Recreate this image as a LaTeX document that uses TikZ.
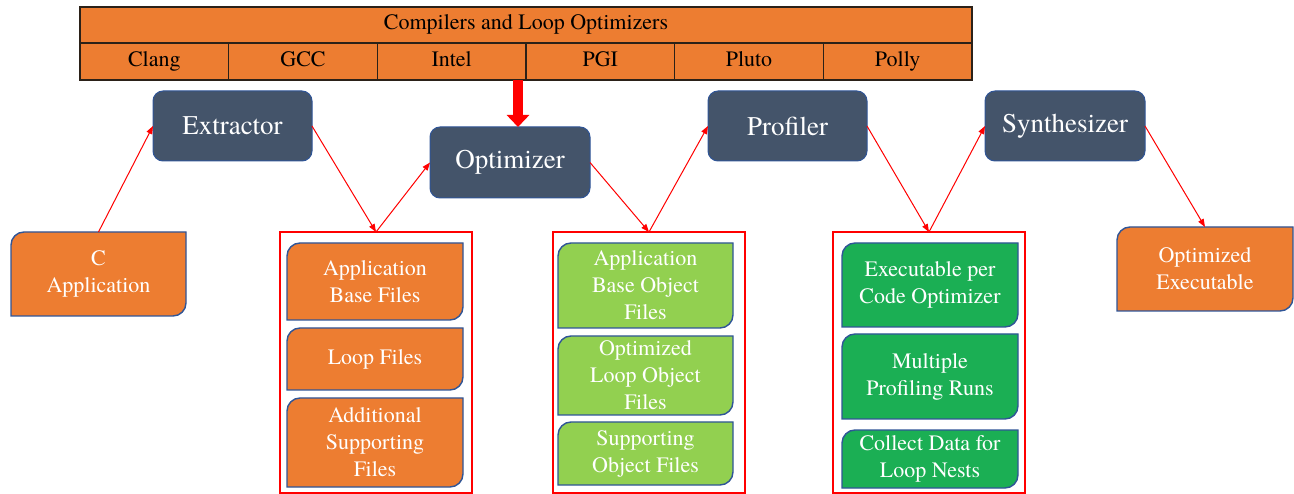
\documentclass[tikz,border=0pt]{standalone}
\usepackage{fontspec}
\IfFontExistsTF{texgyretermes-regular.otf}
  {\newfontfamily\tnr{texgyretermes-regular.otf}}
  {\newcommand\tnr{\rmfamily}}
\usetikzlibrary{arrows.meta,calc}
\definecolor{orng}{HTML}{ED7D31}
\definecolor{lgreen}{HTML}{92D050}
\definecolor{dgreen}{HTML}{1BAF54}
\definecolor{slate}{HTML}{44546A}
\definecolor{bordblue}{HTML}{2F5597}
\definecolor{barline}{HTML}{2B2118}
\definecolor{arrred}{HTML}{FF0000}
\newcommand{\bigtext}[1]{\scalebox{1.2273}{#1}}
\tikzset{
  darknode/.style={draw=bordblue, fill=slate, rounded corners=10pt, line width=1pt,
    text=white, font=\tnr\fontsize{22}{27}\selectfont, minimum width=159pt,
    minimum height=70pt, inner sep=0pt, outer sep=0pt},
  boxframe/.style={inner sep=0pt, outer sep=0pt},
  filenode/.style={text=white, font=\tnr\fontsize{22}{27}\selectfont, align=center,
    inner sep=0pt, outer sep=0pt},
  grpline/.style={arrred, line width=1.3pt},
  cell/.style={draw=barline, fill=orng, line width=1.2pt, font=\tnr\fontsize{22}{27}\selectfont,
    minimum height=37pt, minimum width=148.67pt, inner sep=0pt, outer sep=0pt,
    text height=15pt, text depth=5pt},
  link/.style={arrred, line width=1pt, -{Triangle[length=8pt,width=6pt]}},
  bigarrow/.style={arrred, line width=10pt, -{Triangle[length=12pt,width=22pt]}},
}
\newcommand{\snipbox}[2]{%
    \filldraw[fill=#2, draw=bordblue, line width=1.4pt]
      (#1.south west) -- ([yshift=-13pt]#1.north west)
      arc[start angle=180, end angle=90, radius=13pt]
      -- (#1.north east) -- ([yshift=13pt]#1.south east)
      arc[start angle=0, end angle=-90, radius=13pt] -- cycle;}
\begin{document}
\begin{tikzpicture}[x=1pt,y=-1pt]
\useasboundingbox (0,0) rectangle (1294,494);
% group frames
\node[boxframe, minimum width=192pt, minimum height=261pt] (g1) at (376,362.5) {};
\node[boxframe, minimum width=192pt, minimum height=261pt] (g2) at (649,362.5) {};
\node[boxframe, minimum width=192pt, minimum height=261pt] (g3) at (929,362.5) {};
\draw[grpline] (g1.north west) rectangle (g1.south east);
\draw[grpline] (g2.north west) rectangle (g2.south east);
\draw[grpline] (g3.north west) rectangle (g3.south east);
% top bar
\node[cell, minimum width=892pt, minimum height=36pt] (bar) at (526,25) {Compilers and Loop Optimizers};
\node[cell] (c1) at (154.33,61.5) {Clang};
\node[cell] (c2) at (303.00,61.5) {GCC};
\node[cell] (c3) at (451.67,61.5) {Intel};
\node[cell] (c4) at (600.33,61.5) {PGI};
\node[cell] (c5) at (749.00,61.5) {Pluto};
\node[cell] (c6) at (897.67,61.5) {Polly};
% main nodes
\node[darknode] (ext) at (232.5,126) {\bigtext{Extractor}};
\node[darknode, minimum width=160pt, minimum height=71pt] (opt) at (510,162.5) {\bigtext{Optimizer}};
\node[darknode] (prof) at (787.5,126) {\bigtext{Profiler}};
\node[darknode, minimum width=160pt] (syn) at (1065,126) {\bigtext{Synthesizer}};
% thick arrow
\coordinate (tk) at (518,80);
\draw[bigarrow] (tk) -- (tk |- opt.north);
% frames of file boxes
\node[boxframe, minimum width=175pt, minimum height=84pt] (capp) at (98.5,274) {};
\node[boxframe, minimum width=176pt, minimum height=84pt] (oexe) at (1205,269) {};
\node[boxframe, minimum width=176pt, minimum height=77pt] (a1) at (375,281.5) {};
\node[boxframe, minimum width=176pt, minimum height=62pt] (a2) at (375,359) {};
\node[boxframe, minimum width=176pt, minimum height=89pt] (a3) at (375,442.5) {};
\node[boxframe, minimum width=175pt, minimum height=85pt] (b1) at (645.5,285.5) {};
\node[boxframe, minimum width=175pt, minimum height=79pt] (b2) at (645.5,375.5) {};
\node[boxframe, minimum width=175pt, minimum height=63pt] (b3) at (645.5,453.5) {};
\node[boxframe, minimum width=176pt, minimum height=84pt] (d1) at (930,285) {};
\node[boxframe, minimum width=176pt, minimum height=85pt] (d2) at (930,376.5) {};
\node[boxframe, minimum width=176pt, minimum height=58pt] (d3) at (930,459) {};
\snipbox{capp}{orng}\snipbox{oexe}{orng}
\snipbox{a1}{orng}\snipbox{a2}{orng}\snipbox{a3}{orng}
\snipbox{b1}{lgreen}\snipbox{b2}{lgreen}\snipbox{b3}{lgreen}
\snipbox{d1}{dgreen}\snipbox{d2}{dgreen}\snipbox{d3}{dgreen}
% links
\draw[link] (capp.north) -- (ext.west);
\draw[link] (ext.east) -- (g1.north);
\draw[link] (g1.north) -- (opt.west);
\draw[link] (opt.east) -- (g2.north);
\draw[link] (g2.north) -- (prof.west);
\draw[link] (prof.east) -- (g3.north);
\draw[link] (g3.north) -- (syn.west);
\draw[link] (syn.east) -- (oexe.north);
% texts
\node[filenode] (cappt) at (capp.center) {C\\Application};
\node[filenode] (oexet) at (oexe.center) {Optimized\\Executable};
\node[filenode] (a1t) at (a1.center) {Application\\Base Files};
\node[filenode] (a2t) at (a2.center) {Loop Files};
\node[filenode] (a3t) at (a3.center) {Additional\\Supporting\\Files};
\node[filenode] (b1t) at (b1.center) {Application\\Base Object\\Files};
\node[filenode] (b2t) at (b2.center) {Optimized\\Loop Object\\Files};
\node[filenode] (b3t) at (b3.center) {Supporting\\Object Files};
\node[filenode] (d1t) at (d1.center) {Executable per\\Code Optimizer};
\node[filenode] (d2t) at (d2.center) {Multiple\\Profiling Runs};
\node[filenode] (d3t) at (d3.center) {Collect Data for\\Loop Nests};
\end{tikzpicture}
\end{document}
